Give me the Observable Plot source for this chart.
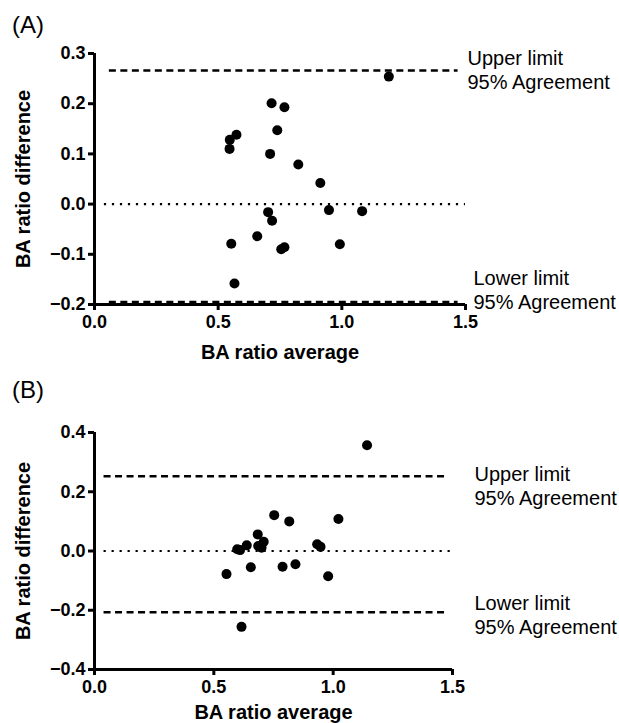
<!DOCTYPE html>
<html>
<head>
<meta charset="utf-8">
<script src="https://cdn.jsdelivr.net/npm/d3@7"></script>
<script src="https://cdn.jsdelivr.net/npm/@observablehq/plot@0.6"></script>
<style>
  html, body { margin: 0; padding: 0; background: #fff; }
  #wrap { position: relative; width: 619px; height: 723px; font-family: "Liberation Sans", Arial, sans-serif; }
  .panel { position: absolute; left: 0; z-index: 1; }
  .tag { position: absolute; font-size: 24px; color: #000; z-index: 2; line-height: 1; }
</style>
</head>
<body>
<div id="wrap">
  <div id="pa" class="panel" style="top:0px;"></div>
  <div id="pb" class="panel" style="top:360px;"></div>
  <div class="tag" style="left:12px; top:13px;">(A)</div>
  <div class="tag" style="left:12px; top:378px;">(B)</div>
</div>
<script>
// Panel A data
const aAvg  = [1.190, 0.716, 0.768, 0.739, 0.574, 0.547, 0.546, 0.710, 0.824, 0.913, 0.702, 0.718, 0.948, 1.082, 0.553, 0.658, 0.755, 0.768, 0.992, 0.566];
const aDiff = [0.254, 0.201, 0.193, 0.147, 0.138, 0.128, 0.110, 0.100, 0.079, 0.042, -0.016, -0.033, -0.012, -0.014, -0.079, -0.064, -0.090, -0.086, -0.080, -0.158];
const aLimits = [0.266, -0.195];
const aYTicks = [-0.2, -0.1, 0, 0.1, 0.2, 0.3];
const aYDomain = [-0.2, 0.3];

// Panel B data
const bAvg  = [1.142, 0.753, 0.816, 1.022, 0.684, 0.709, 0.686, 0.700, 0.638, 0.598, 0.610, 0.553, 0.655, 0.788, 0.842, 0.933, 0.947, 0.979, 0.616];
const bDiff = [0.357, 0.121, 0.100, 0.108, 0.056, 0.031, 0.017, 0.011, 0.019, 0.006, 0.003, -0.078, -0.055, -0.053, -0.045, 0.023, 0.014, -0.085, -0.256];
const bLimits = [0.2525, -0.207];
const bYTicks = [-0.4, -0.2, 0, 0.2, 0.4];
const bYDomain = [-0.4, 0.4];

const xTicks = [0, 0.5, 1.0, 1.5];
const xDomain = [0, 1.5];
const limitLabels = ["Upper limit\n95% Agreement", "Lower limit\n95% Agreement"];
const xLabel = "BA ratio average";
const yLabel = "BA ratio difference";

function panel(avg, diff, limits, yTicks, yDomain, opts) {
  const pts = avg.map((a, i) => ({avg: a, diff: diff[i]}));
  const lim = limits.map((v, i) => ({v, label: limitLabels[i], dy: opts.labelDy[i], dx: opts.labelDx[i]}));
  return Plot.plot({
    width: 619,
    height: opts.height,
    marginLeft: 94,
    marginRight: opts.marginRight,
    marginTop: opts.marginTop,
    marginBottom: opts.marginBottom,
    style: {fontFamily: '"Liberation Sans", Arial, sans-serif', fontSize: "18px", fontWeight: "bold", color: "#000", background: "transparent", overflow: "visible"},
    x: {domain: xDomain, ticks: xTicks},
    y: {domain: yDomain, ticks: yTicks},
    marks: [
      // zero line (dotted)
      Plot.ruleY([0], {x1: opts.zeroX[0], x2: opts.zeroX[1], stroke: "#000", strokeWidth: 2.2, strokeDasharray: "2.2,5.8"}),
      // limits (dashed)
      Plot.ruleY(lim, {y: "v", x1: opts.limX[0], x2: opts.limX[1], stroke: "#000", strokeWidth: 2.6, strokeDasharray: "7,4.5"}),
      // axes lines
      Plot.ruleX([0], {y1: yDomain[0], y2: yDomain[1], stroke: "#000", strokeWidth: 3}),
      Plot.ruleY([yDomain[0]], {x1: xDomain[0], x2: xDomain[1], stroke: "#000", strokeWidth: 3}),
      Plot.axisX({ticks: xTicks, tickFormat: d3.format(".1f"), tickSize: 6, tickPadding: 5, strokeWidth: 3, label: null, fontWeight: "bold"}),
      Plot.axisY({ticks: yTicks, tickFormat: d3.format(".1f"), tickSize: 6, tickPadding: 3, strokeWidth: 3, label: null, fontWeight: "bold"}),
      // points
      Plot.dot(pts, {x: "avg", y: "diff", r: 5, fill: "#000", stroke: "none"}),
      // limit labels
      ...lim.map(d => Plot.text([d], {x: () => xDomain[1], y: "v", text: "label", textAnchor: "start", dx: d.dx, dy: d.dy, fontSize: 20, fontWeight: "normal", lineHeight: 1.2, fill: "#000"})),
      // axis titles
      Plot.text([xLabel], {frameAnchor: "bottom", dy: opts.xLabelDy, text: d => d, fontSize: 20, fontWeight: "bold", lineAnchor: "middle", fill: "#000"}),
      Plot.text([yLabel], {frameAnchor: "left", dx: -71, rotate: -90, text: d => d, fontSize: 20, fontWeight: "bold", textAnchor: "middle", lineAnchor: "middle", fill: "#000"})
    ]
  });
}

document.getElementById("pa").appendChild(panel(aAvg, aDiff, aLimits, aYTicks, aYDomain, {
  height: 360, marginTop: 53, marginBottom: 56, marginRight: 154,
  labelDy: [-1, -13], labelDx: [2, 8], xLabelDy: 48,
  zeroX: [0.04, 1.5], limX: [0.06, 1.47]
}));
document.getElementById("pb").appendChild(panel(bAvg, bDiff, bLimits, bYTicks, bYDomain, {
  height: 363, marginTop: 72, marginBottom: 54, marginRight: 167,
  labelDy: [9, 2], labelDx: [22, 22], xLabelDy: 43,
  zeroX: [0.04, 1.5], limX: [0.04, 1.48]
}));
</script>
</body>
</html>
